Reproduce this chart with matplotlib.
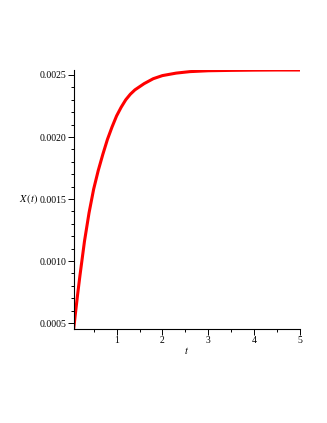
import matplotlib
matplotlib.use('Agg')
import matplotlib.pyplot as plt
from matplotlib.ticker import MultipleLocator

# values
t = [0.065, 0.1, 0.15, 0.2, 0.25, 0.3, 0.4, 0.5, 0.6, 0.7, 0.8, 0.9, 1.0,
     1.1, 1.2, 1.3, 1.4, 1.6, 1.8, 2.0, 2.3, 2.6, 3.0, 3.5, 4.0, 4.5, 5.0]
X = [0.000455, 0.00057, 0.00073, 0.00088, 0.00102, 0.00116, 0.00139,
     0.00158, 0.00173, 0.00186, 0.00198, 0.00208, 0.00217, 0.00224,
     0.00230, 0.002345, 0.00238, 0.00243, 0.00247, 0.002495, 0.002515,
     0.002527, 0.002534, 0.002537, 0.002539, 0.00254, 0.00254]
xticks = [1, 2, 3, 4, 5]
yticks = [0.0005, 0.0010, 0.0015, 0.0020, 0.0025]

plt.rcParams['font.family'] = ['Liberation Serif', 'DejaVu Serif']
plt.rcParams['mathtext.fontset'] = 'stix'

fig = plt.figure(figsize=(3.27, 4.23), dpi=100)
ax = fig.add_axes([0.2254, 0.2229, 0.692, 0.6116])
ax.plot(t, X, color='#ff0000', linewidth=2.2, solid_capstyle='butt',
        solid_joinstyle='round')

ax.set_xlim(0.065, 5)
ax.set_ylim(0.000455, 0.00254)
ax.set_xticks(xticks)
ax.set_xticklabels([str(v) for v in xticks])
ax.set_yticks(yticks)
ax.set_yticklabels(['%.4f' % v for v in yticks])
ax.xaxis.set_minor_locator(MultipleLocator(0.5))
ax.yaxis.set_minor_locator(MultipleLocator(0.0001))

ax.spines['right'].set_visible(False)
ax.spines['top'].set_visible(False)
for s in ['left', 'bottom']:
    ax.spines[s].set_linewidth(0.8)
    ax.spines[s].set_color('black')
ax.tick_params(which='major', length=4, width=0.7, labelsize=7, pad=1.5)
ax.tick_params(which='minor', length=2.5, width=0.7)

ax.set_xlabel('$t$', fontsize=7.5, labelpad=0)
ax.set_ylabel('$X\\,(t)$', fontsize=7.5, rotation=0, ha='center', va='center')
ax.yaxis.set_label_coords(-0.20, 0.50)

fig.savefig('out.png', dpi=100)
